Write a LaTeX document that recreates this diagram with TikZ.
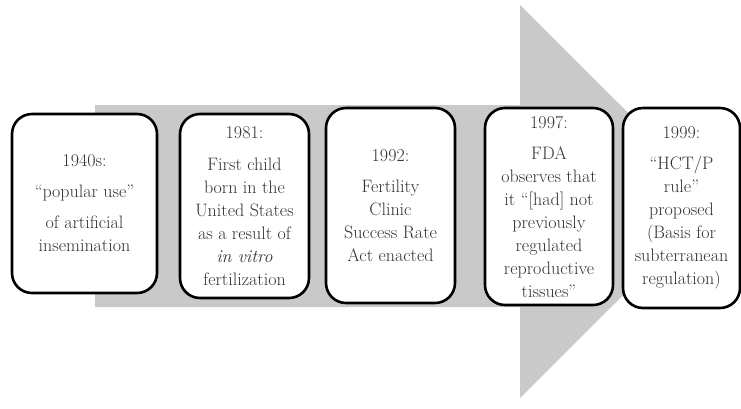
\documentclass[tikz,border=0pt]{standalone}
\usepackage{tikz}
\begin{document}
\begin{tikzpicture}[x=1pt,y=-1pt,
  evbox/.style={draw=black, line width=2.6pt, rounded corners=20pt, fill=white,
    align=center, inner sep=0pt, text=black!80,
    font=\fontsize{18}{23}\selectfont},
  arrowshape/.style={fill=black!21, draw=none}]
\useasboundingbox (0,0) rectangle (741,408);
% big arrow
\fill[arrowshape] (95,105) -- (520,105) -- (520,5) -- (717,201.5) -- (520,398) -- (520,307) -- (95,307) -- cycle;
% boxes
\node[evbox, minimum width=145pt, minimum height=179pt] (b1) at (84.5,203.5)
  {1940s:\\[8pt]\textquotedblleft popular use\textquotedblright\\[8pt]of artificial\\insemination};
\node[evbox, minimum width=129pt, minimum height=184pt] (b2) at (244.5,206)
  {1981:\\[9pt]First child\\born in the\\United States\\as a result of\\\textit{in vitro}\\fertilization};
\node[evbox, minimum width=129pt, minimum height=195pt] (b3) at (390.5,205.5)
  {1992:\\[8pt]Fertility\\Clinic\\Success Rate\\Act enacted};
\node[evbox, minimum width=128pt, minimum height=197pt] (b4) at (549,206.5)
  {1997:\\[8pt]FDA\\observes that\\it \textquotedblleft[had] not\\previously\\regulated\\reproductive\\tissues\textquotedblright};
\node[evbox, minimum width=117pt, minimum height=200pt] (b5) at (681.5,208)
  {1999:\\[8pt]\textquotedblleft HCT/P\\rule\textquotedblright\\proposed\\(Basis for\\subterranean\\regulation)};
\end{tikzpicture}
\end{document}
